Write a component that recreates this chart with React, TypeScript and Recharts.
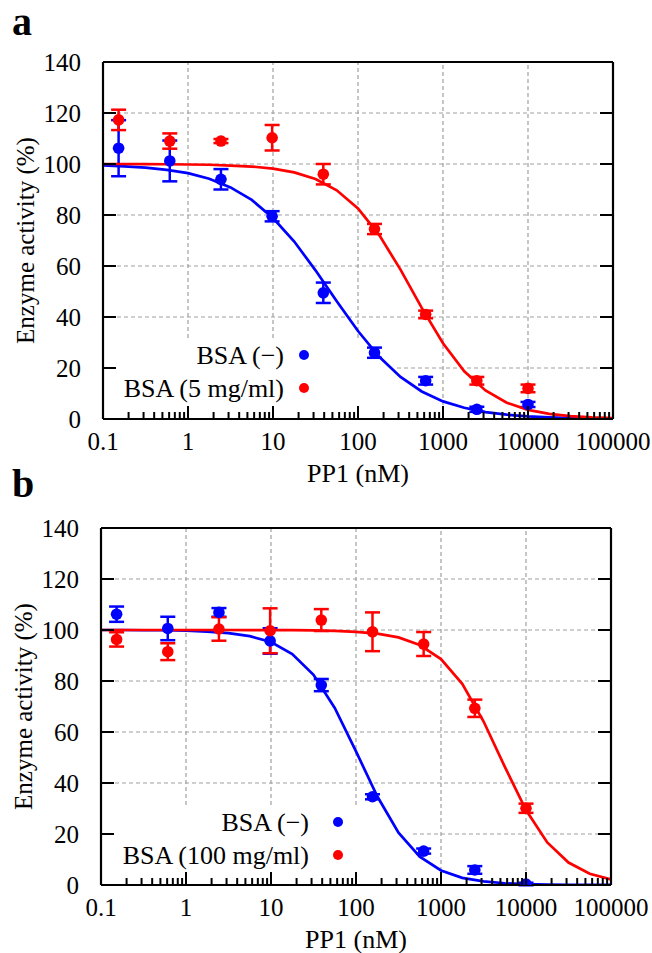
import React from "react";
import {
  ComposedChart,
  Line,
  Scatter,
  ErrorBar,
  XAxis,
  YAxis,
  ReferenceLine,
  Legend,
} from "recharts";

const FONT = "Liberation Serif, Times New Roman, serif";
const BLUE = "#0000ff";
const RED = "#ff0000";
const GRID = "#a0a0a0";

// PP1 concentrations (nM), 4-fold dilution series
const concentrations = [0.1526, 0.6104, 2.441, 9.766, 39.06, 156.3, 625, 2500, 10000];

// panel a: measured activity (%) and error
const noneA = [106.2, 101.2, 94, 79.5, 49.5, 26, 15, 3.8, 5.7];
const noneErrA = [11, 8, 4, 2, 4, 2, 1.5, 1, 1];
const bsa5A = [117.3, 109, 109, 110.3, 96, 74.5, 41, 15, 12];
const bsa5ErrA = [4, 3, 0.8, 5, 4, 2, 1.5, 1.5, 1.5];

// panel b
const noneB = [106.2, 100.6, 106.9, 95.7, 78.4, 34.6, 13.3, 5.9, 0.4];
const noneErrB = [3, 4.6, 1.7, 5, 2.4, 1, 1, 1.5, 0.5];
const bsa100B = [96.3, 91.5, 100.4, 99.7, 103.9, 99.3, 94.5, 69.3, 30.1];
const bsa100ErrB = [2.8, 3.3, 4.6, 8.8, 4.3, 7.6, 4.7, 3.4, 1.8];

// fitted curves at quarter-decade steps
const fitX = [
  0.1, 0.1778, 0.3162, 0.5623, 1, 1.778, 3.162, 5.623, 10, 17.78, 31.62, 56.23, 100,
  177.8, 316.2, 562.3, 1000, 1778, 3162, 5623, 10000, 17783, 31623, 56234, 100000,
];
const fitNoneA = [
  99.5, 99.1, 98.6, 97.7, 96.4, 94.2, 90.8, 85.9, 78.8, 69.6, 58.3, 46.2, 34.5, 24.4,
  16.5, 10.8, 6.9, 4.4, 2.7, 1.7, 1.0, 0.64, 0.39, 0.24, 0.15,
];
const fit5A = [
  100, 100, 99.95, 99.9, 99.8, 99.7, 99.4, 99.0, 98.2, 96.7, 94.1, 89.7, 82.6, 72.1,
  58.6, 43.6, 29.7, 18.7, 11.2, 6.4, 3.6, 2.0, 1.1, 0.6, 0.33,
];
const fitNoneB = [
  100, 100, 99.9, 99.9, 99.7, 99.4, 98.8, 97.6, 95.3, 90.6, 82.4, 69.4, 52.4, 34.8,
  20.5, 11.1, 5.7, 2.8, 1.4, 0.68, 0.33, 0.16, 0.08, 0.04, 0.02,
];
const fit100B = [
  100, 100, 100, 100, 100, 100, 100, 99.98, 99.96, 99.92, 99.84, 99.67, 99.3, 98.6,
  97.1, 94.1, 88.6, 78.9, 64.2, 46.4, 29.4, 16.7, 8.8, 4.4, 2.2,
];

// axes
const decades = [0.1, 1, 10, 100, 1000, 10000, 100000];
const decadeLabels = ["0.1", "1", "10", "100", "1000", "10000", "100000"];
const minorSteps = [2, 3, 4, 5, 6, 7, 8, 9];
const xTicks = [
  ...decades,
  ...decades.slice(0, -1).flatMap((d) => minorSteps.map((m) => d * m)),
];
const yTicks = [0, 20, 40, 60, 80, 100, 120, 140];
const xGrid = [1, 10, 100, 1000, 10000];
const yGrid = [20, 40, 60, 80, 100, 120];

const toPoints = (ys: number[], errs: number[]) =>
  concentrations.map((x, i) => ({ x, y: ys[i], err: errs[i] }));
const toCurve = (ys: number[]) => fitX.map((x, i) => ({ x, y: ys[i] }));

const majorIndex = (v: number) => decades.findIndex((d) => Math.abs(d - v) < 1e-9);

const textStyle = { fontFamily: FONT, fontSize: 25 };
const labelStyle = { fontFamily: FONT, fontSize: 26 };

const BottomTick = (props: any) => {
  const { x, y, payload } = props;
  const i = majorIndex(payload.value);
  return (
    <g>
      <line x1={x} x2={x} y1={y} y2={y - (i >= 0 ? 13 : 7)} stroke="#000" strokeWidth={2} />
      {i >= 0 && (
        <text x={x} y={y + 31} textAnchor="middle" style={textStyle} fill="#000">
          {decadeLabels[i]}
        </text>
      )}
    </g>
  );
};

const TopTick = (props: any) => {
  const { x, y, payload } = props;
  const i = majorIndex(payload.value);
  return <line x1={x} x2={x} y1={y} y2={y + (i >= 0 ? 13 : 7)} stroke="#000" strokeWidth={2} />;
};

const LeftTick = (props: any) => {
  const { x, y, payload } = props;
  return (
    <g>
      <line x1={x} x2={x + 13} y1={y} y2={y} stroke="#000" strokeWidth={2} />
      <text x={x - 22} y={y + 8.5} textAnchor="end" style={textStyle} fill="#000">
        {payload.value}
      </text>
    </g>
  );
};

const RightTick = (props: any) => {
  const { x, y } = props;
  return <line x1={x} x2={x - 13} y1={y} y2={y} stroke="#000" strokeWidth={2} />;
};

const dotShape = (color: string) => (p: any) => <circle cx={p.cx} cy={p.cy} r={5.8} fill={color} />;

interface PanelProps {
  top: number;
  left: number;
  none: number[];
  noneErr: number[];
  bsa: number[];
  bsaErr: number[];
  fitNone: number[];
  fitBsa: number[];
  bsaLabel: string;
  dotGap: number;
  legendRight: number;
  legendTop: number;
  cutY: number; // grid hidden below this value (legend box)
  cutX: number; // 20% grid line starts here
}

const Panel: React.FC<PanelProps> = (p) => {
  const axisLine = { stroke: "#000", strokeWidth: 2.2 };
  const entries = [
    { label: "BSA (\u2212)", color: BLUE },
    { label: p.bsaLabel, color: RED },
  ];
  return (
    <div style={{ position: "absolute", top: p.top, left: p.left }}>
      <ComposedChart width={652} height={487} margin={{ top: 52, right: 29, bottom: 28, left: 43 }}>
        {xGrid.map((g) => (
          <ReferenceLine
            key={"vx" + g}
            segment={[
              { x: g, y: g <= 100 ? p.cutY : 0 },
              { x: g, y: 140 },
            ]}
            stroke={GRID}
            strokeWidth={1.2}
            strokeDasharray="4 3"
          />
        ))}
        {yGrid.map((g) => (
          <ReferenceLine
            key={"hy" + g}
            segment={[
              { x: g === 20 ? p.cutX : 0.1, y: g },
              { x: 100000, y: g },
            ]}
            stroke={GRID}
            strokeWidth={1.2}
            strokeDasharray="4 3"
          />
        ))}
        <XAxis
          dataKey="x"
          type="number"
          scale="log"
          domain={[0.1, 100000]}
          allowDataOverflow
          ticks={xTicks}
          interval={0}
          tickSize={0}
          tickMargin={0}
          tickLine={false}
          axisLine={axisLine}
          height={40}
          tick={BottomTick}
          label={{
            content: () => (
              <text x={358} y={482} textAnchor="middle" style={labelStyle} fill="#000">
                PP1 (nM)
              </text>
            ),
          }}
        />
        <XAxis
          xAxisId="top"
          orientation="top"
          type="number"
          scale="log"
          domain={[0.1, 100000]}
          allowDataOverflow
          ticks={xTicks}
          interval={0}
          tickSize={0}
          tickMargin={0}
          tickLine={false}
          axisLine={axisLine}
          height={10}
          tick={TopTick}
        />
        <YAxis
          dataKey="y"
          type="number"
          domain={[0, 140]}
          allowDataOverflow
          ticks={yTicks}
          interval={0}
          tickSize={0}
          tickMargin={0}
          tickLine={false}
          axisLine={axisLine}
          width={60}
          tick={LeftTick}
          label={{
            content: () => (
              <text
                x={34}
                y={240.5}
                transform="rotate(-90 34 240.5)"
                textAnchor="middle"
                style={textStyle}
                fill="#000"
              >
                Enzyme activity (%)
              </text>
            ),
          }}
        />
        <YAxis
          yAxisId="right"
          orientation="right"
          type="number"
          domain={[0, 140]}
          allowDataOverflow
          ticks={yTicks}
          interval={0}
          tickSize={0}
          tickMargin={0}
          tickLine={false}
          axisLine={axisLine}
          width={10}
          tick={RightTick}
        />
        <Scatter data={toPoints(p.none, p.noneErr)} fill={BLUE} shape={dotShape(BLUE)} isAnimationActive={false}>
          <ErrorBar dataKey="err" direction="y" width={7.5} stroke={BLUE} strokeWidth={2.5} isAnimationActive={false} />
        </Scatter>
        <Line
          data={toCurve(p.fitNone)}
          dataKey="y"
          type="linear"
          stroke={BLUE}
          strokeWidth={2.7}
          dot={false}
          activeDot={false}
          isAnimationActive={false}
        />
        <Scatter data={toPoints(p.bsa, p.bsaErr)} fill={RED} shape={dotShape(RED)} isAnimationActive={false}>
          <ErrorBar dataKey="err" direction="y" width={7.5} stroke={RED} strokeWidth={2.5} isAnimationActive={false} />
        </Scatter>
        <Line
          data={toCurve(p.fitBsa)}
          dataKey="y"
          type="linear"
          stroke={RED}
          strokeWidth={2.7}
          dot={false}
          activeDot={false}
          isAnimationActive={false}
        />
        <Legend
          layout="vertical"
          align="center"
          verticalAlign="middle"
          wrapperStyle={{ right: p.legendRight, top: p.legendTop, left: "auto", width: "auto" }}
          content={() => (
            <div
              style={{
                display: "grid",
                gridTemplateColumns: `max-content ${p.dotGap * 2}px`,
                fontFamily: FONT,
                fontSize: 26,
                lineHeight: "33px",
                color: "#000",
              }}
            >
              {entries.map((e) => (
                <React.Fragment key={e.label}>
                  <span style={{ textAlign: "right", whiteSpace: "nowrap" }}>{e.label}</span>
                  <span style={{ display: "flex", alignItems: "center", justifyContent: "center" }}>
                    <svg width={10} height={10}>
                      <circle cx={5} cy={5} r={5} fill={e.color} />
                    </svg>
                  </span>
                </React.Fragment>
              ))}
            </div>
          )}
        />
      </ComposedChart>
    </div>
  );
};

const letterStyle: React.CSSProperties = {
  position: "absolute",
  fontFamily: FONT,
  fontWeight: "bold",
  fontSize: 40,
  lineHeight: "40px",
  color: "#000",
};

export default function App() {
  return (
    <div style={{ position: "absolute", left: 0, top: 0, width: 652, height: 953, background: "#fff" }}>
      <Panel
        top={0}
        left={0}
        none={noneA}
        noneErr={noneErrA}
        bsa={bsa5A}
        bsaErr={bsa5ErrA}
        fitNone={fitNoneA}
        fitBsa={fit5A}
        bsaLabel="BSA (5 mg/ml)"
        dotGap={20}
        legendRight={328}
        legendTop={338.5}
        cutY={31.8}
        cutX={288}
      />
      <Panel
        top={466}
        left={-2}
        none={noneB}
        noneErr={noneErrB}
        bsa={bsa100B}
        bsaErr={bsa100ErrB}
        fitNone={fitNoneB}
        fitBsa={fit100B}
        bsaLabel="BSA (100 mg/ml)"
        dotGap={29}
        legendRight={283}
        legendTop={339.5}
        cutY={31.4}
        cutX={468}
      />
      <div style={{ ...letterStyle, left: 12, top: 1.5 }}>a</div>
      <div style={{ ...letterStyle, left: 12, top: 463.5 }}>b</div>
    </div>
  );
}
